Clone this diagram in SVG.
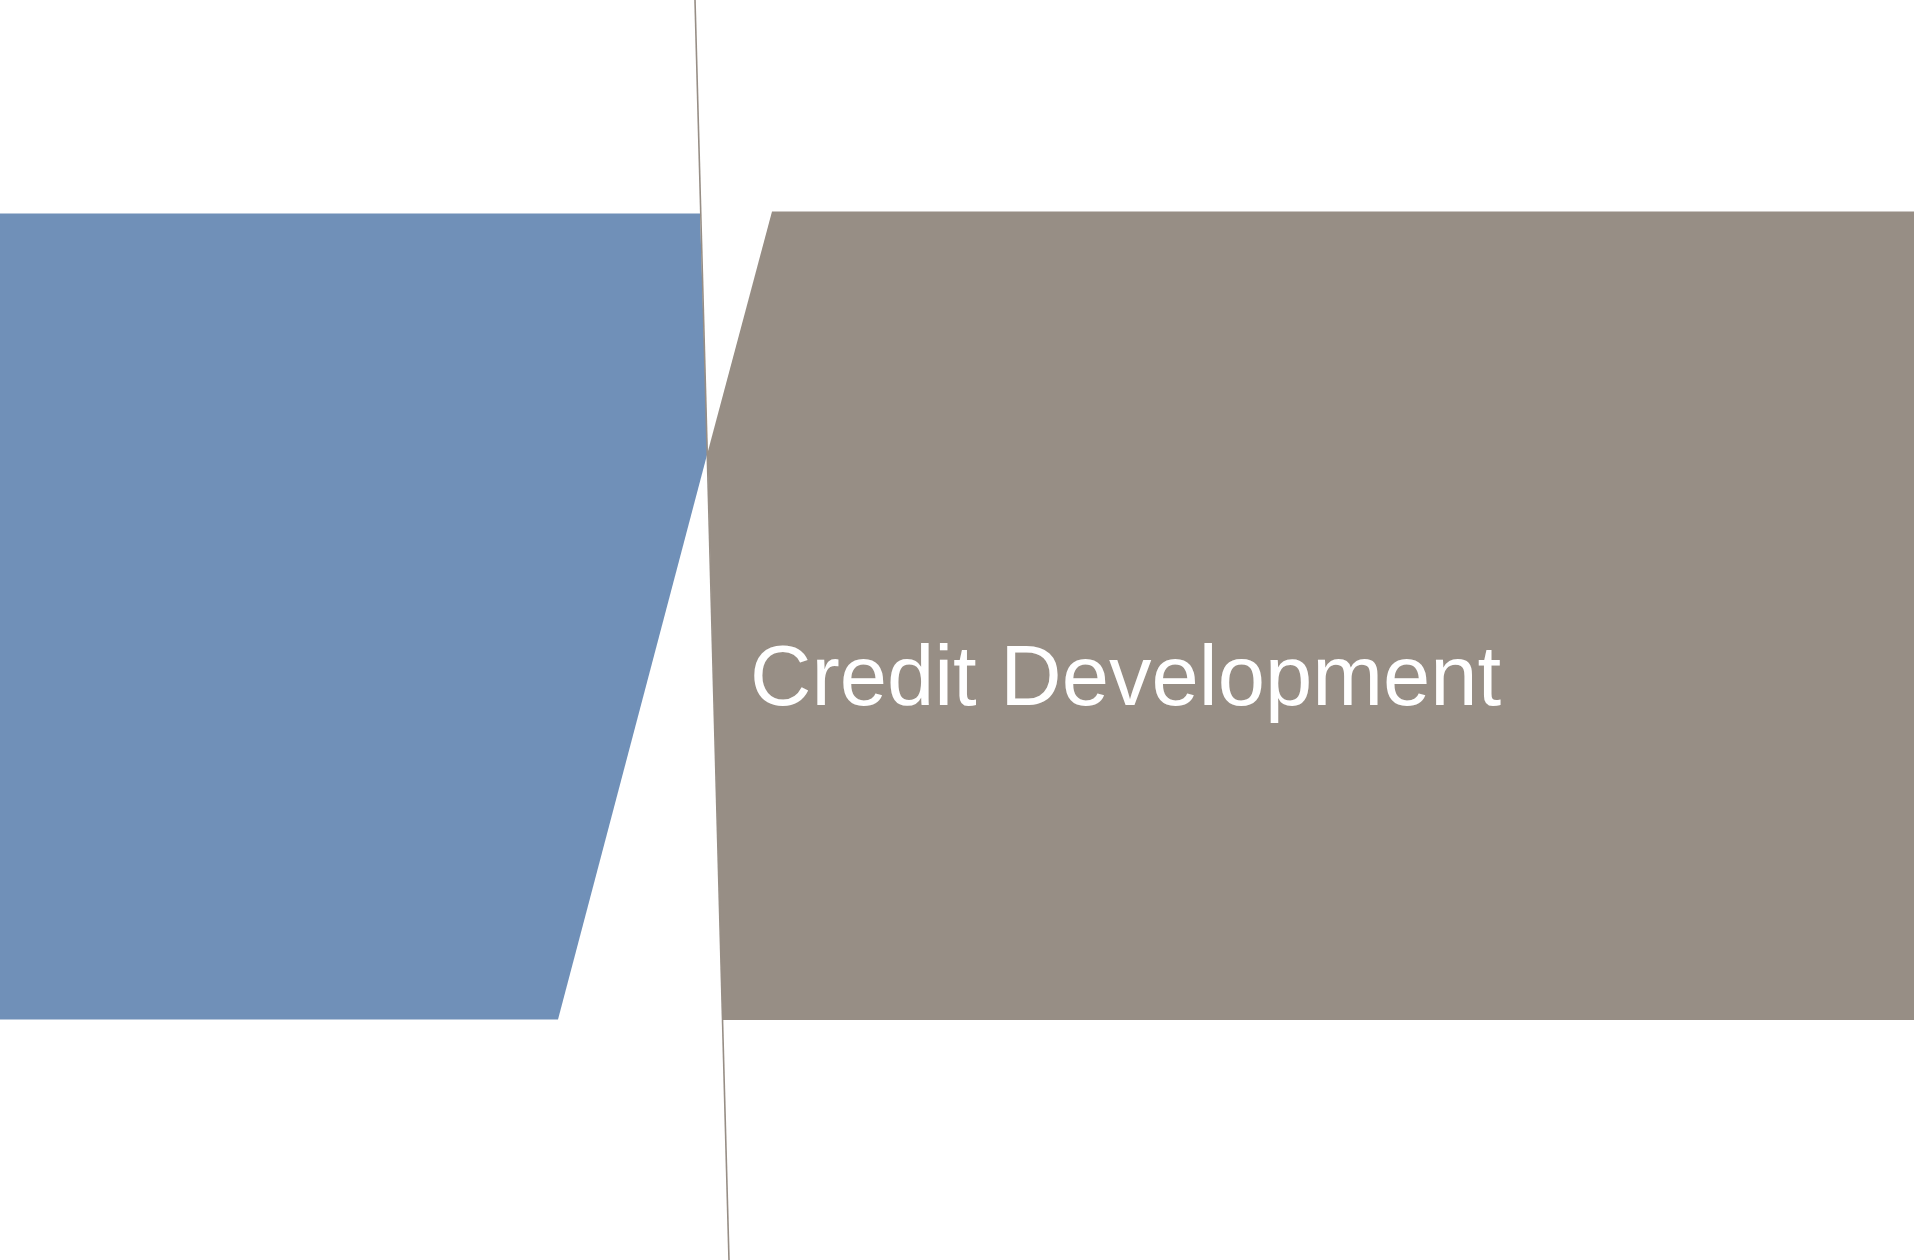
<svg xmlns="http://www.w3.org/2000/svg" width="1915" height="1260" viewBox="0 0 1915 1260">
<style>
.blue{fill:#7090b8}
.gray{fill:#978e85}
.lbl{font-family:"Liberation Sans",Arial,sans-serif;font-size:85px;fill:#ffffff}
.sep{stroke:#978e85;stroke-width:1.6;fill:none}
</style>
<rect width="1915" height="1260" fill="#ffffff"/>
<g id="node-left">
<polygon class="blue" points="0,213.5 700,213.5 707.5,453 558,1019.5 0,1019.5"/>
</g>
<g id="node-credit-development">
<polygon class="gray" points="772,211.5 1914,211.5 1914,1020 722.5,1020 707.5,453"/>
<text class="lbl" x="750" y="705">Credit Development</text>
</g>
<g id="connectors">
<line class="sep" x1="695" y1="0" x2="729" y2="1260"/>
</g>
</svg>
